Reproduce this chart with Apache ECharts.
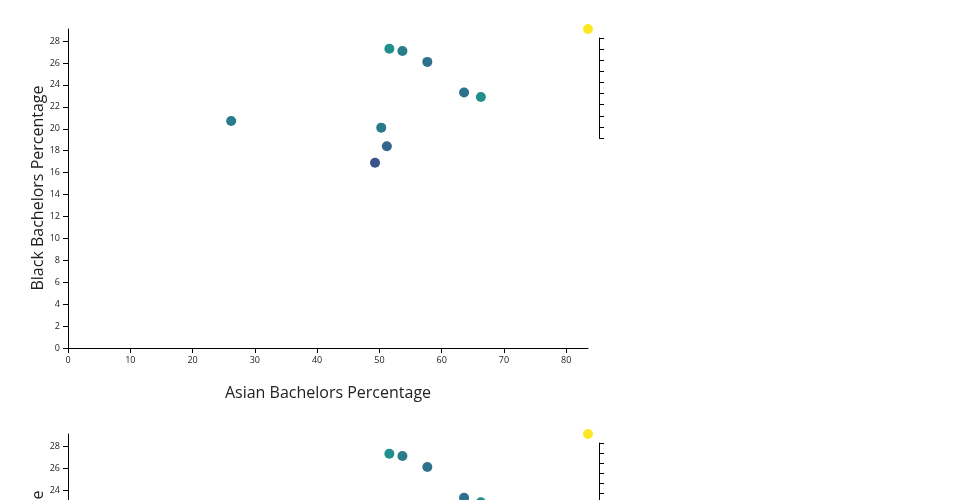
<!DOCTYPE html>
<html><head><meta charset="utf-8">
<script src="https://cdn.jsdelivr.net/npm/echarts@6/dist/echarts.min.js"></script>
<style>html,body{margin:0;padding:0;background:#fff}#c{width:960px;height:500px}</style>
</head><body><div id="c"></div>
<script>
const asianPct = [26.2, 51.6, 53.7, 57.7, 63.6, 66.3, 50.3, 51.2, 49.3, 83.5];
const blackPct = [20.7, 27.3, 27.1, 26.1, 23.3, 22.9, 20.1, 18.4, 16.9, 29.1];
const colorVal = [0.42, 0.5, 0.42, 0.37, 0.38, 0.5, 0.41, 0.33, 0.26, 1.0];
const pts = asianPct.map((x,i)=>[x, blackPct[i], colorVal[i]]);
const yTicks2 = [24, 26, 28];
const xMax = 83.5, yMax = 29.1;
const font = 'Open Sans';
const yTitle = 'Black Bachelors Percentage';
const chart = echarts.init(document.getElementById('c'));
function xA(gi,show){return {gridIndex:gi,type:'value',min:0,max:xMax,interval:10,show:show,
  name:'Asian Bachelors Percentage',nameLocation:'middle',nameGap:37,
  nameTextStyle:{fontFamily:font,fontSize:16,color:'#222'},
  axisLine:{lineStyle:{color:'#000'}},axisTick:{length:5,lineStyle:{color:'#000'}},
  axisLabel:{fontFamily:font,fontSize:9,color:'#222',showMaxLabel:false},splitLine:{show:false}};}
const yBase = {type:'value',max:yMax,
  axisLine:{show:true,lineStyle:{color:'#000'}},splitLine:{show:false}};
function cbA(gi,max){return {gridIndex:gi,type:'value',min:0,max:max,interval:1,position:'right',inverse:true,
  axisLine:{show:true,lineStyle:{color:'#000'}},axisTick:{show:true,length:5,lineStyle:{color:'#000'}},
  axisLabel:{show:false},splitLine:{show:false}};}
chart.setOption({
  animation:false,
  grid:[{left:68,top:29,width:520,height:319},
        {left:68,top:434,width:520,height:66},
        {left:599,top:38,width:1,height:100},
        {left:599,top:443,width:1,height:57}],
  xAxis:[xA(0,true),xA(1,false),{gridIndex:2,show:false,min:0,max:1},{gridIndex:3,show:false,min:0,max:1}],
  yAxis:[
    Object.assign({},yBase,{gridIndex:0,min:0,interval:2,
      axisTick:{show:true,length:5,lineStyle:{color:'#000'}},
      axisLabel:{fontFamily:font,fontSize:9,color:'#222',showMaxLabel:false}}),
    Object.assign({},yBase,{gridIndex:1,min:23.1,
      axisTick:{show:true,length:5,lineStyle:{color:'#000'},customValues:yTicks2},
      axisLabel:{fontFamily:font,fontSize:9,color:'#222',customValues:yTicks2}}),
    cbA(2,9),cbA(3,5.7)],
  visualMap:{show:false,dimension:2,min:0,max:1,seriesIndex:[0,1],
    inRange:{color:['#440154','#3b528b','#21908d','#5dc963','#fde725']}},
  graphic:[
    {type:'text',x:38,y:188,rotation:Math.PI/2,
      style:{text:yTitle,fontFamily:font,fontSize:16,fill:'#222',align:'center',verticalAlign:'middle'}},
    {type:'text',x:38,y:593,rotation:Math.PI/2,
      style:{text:yTitle,fontFamily:font,fontSize:16,fill:'#222',align:'center',verticalAlign:'middle'}}],
  series:[
    {type:'scatter',xAxisIndex:0,yAxisIndex:0,data:pts,symbolSize:10,itemStyle:{opacity:1}},
    {type:'scatter',xAxisIndex:1,yAxisIndex:1,data:pts,symbolSize:10,clip:false,itemStyle:{opacity:1}}
  ]
});
</script></body></html>
